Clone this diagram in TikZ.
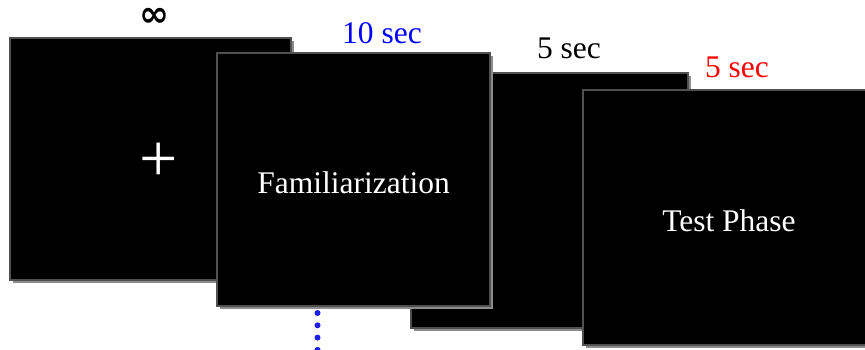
\documentclass[tikz,border=0pt]{standalone}
\usepackage{fontspec}
\setmainfont{Liberation Serif}
\newfontfamily\symbfont{DejaVu Sans}
\usetikzlibrary{shadows}
\definecolor{bordgris}{HTML}{505050}
\definecolor{ombregris}{HTML}{8C8C8C}
\definecolor{bleupoint}{HTML}{1E1EEB}
\tikzset{
    ecran/.style={
        rectangle, fill=black, draw=bordgris, line width=2pt,
        text=white, font=\fontsize{31.5}{36}\selectfont,
        text height=28pt, text depth=0pt,
        drop shadow={shadow xshift=3pt, shadow yshift=-3pt, fill=ombregris, opacity=1}
    },
    duree/.style={anchor=base, font=\fontsize{31.5}{36}\selectfont},
    attente/.style={bleupoint, line width=6pt, line cap=round, dash pattern=on 0pt off 12.3pt}
}
\begin{document}
\begin{tikzpicture}[x=1pt, y=-1pt]

	\useasboundingbox (0,0) rectangle (865,349);

		% Écrans, du fond vers l'avant
		\node[ecran, minimum width=281pt, minimum height=242pt] (fixation) at (150.5,159) {};
		\node[ecran, minimum width=277pt, minimum height=255pt] (pause) at (549.5,200.5) {};
		\node[ecran, minimum width=273pt, minimum height=253pt] (familiarisation) at (353.5,179.5) {Familiarization};
		\node[ecran, minimum width=292pt, minimum height=255pt] (test) at (729,217.5) {Test Phase};

		% Croix de fixation
		\node[text=white, font=\fontsize{68}{68}\selectfont] (croix)
			at ([xshift=8pt, yshift=-3pt]fixation.center) {+};

		% Durées des écrans
		\node[font=\symbfont\bfseries\fontsize{36}{38}\selectfont] (infini) at (154.5,17.5) {∞};
		\node[duree, text=blue] (dureefam) at (382,43) {10 sec};
		\node[duree, text=black] (dureepause) at (569,58.3) {5 sec};
		\node[duree, text=red] (dureetest) at (737,77.3) {5 sec};

		% Points de suspension sous la familiarisation
		\draw[attente] ([xshift=-36pt, yshift=-6pt]familiarisation.south) -- ++(0,40);

\end{tikzpicture}
\end{document}
